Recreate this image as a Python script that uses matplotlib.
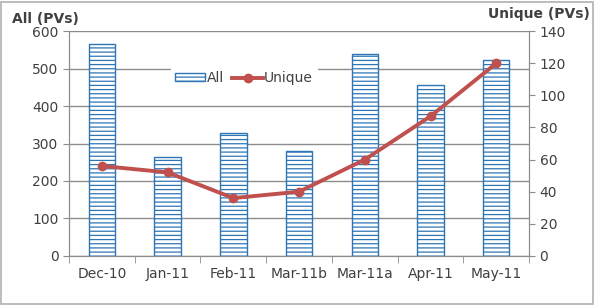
import numpy as np
import matplotlib
matplotlib.use("Agg")
import matplotlib.pyplot as plt
from matplotlib.patches import Rectangle

months = ["Dec-10", "Jan-11", "Feb-11", "Mar-11b", "Mar-11a", "Apr-11", "May-11"]
all_pvs = [565, 265, 328, 281, 539, 456, 523]
unique_pvs = [56, 52, 36, 40, 60, 87, 120]

plt.rcParams['font.family'] = ['DejaVu Sans']
plt.rcParams['hatch.color'] = '#4A8CCB'
plt.rcParams['hatch.linewidth'] = 0.9
txt = '#404040'
grid_c = '#8c8c8c'

fig = plt.figure(figsize=(6, 3.05), dpi=100)
ax = fig.add_axes([0.115, 0.161, 0.767, 0.737])
ax2 = ax.twinx()

x = np.arange(len(months))
bars = ax.bar(x, all_pvs, width=0.4, facecolor='white', edgecolor='#2E75B6',
              linewidth=1.0, hatch='----', zorder=2, label='All')
ln, = ax2.plot(x, unique_pvs, color='#C0504D', lw=2.8, marker='o', ms=6,
               label='Unique', zorder=3)

ax.set_xlim(-0.5, len(months) - 0.5)
ax.set_ylim(0, 600)
ax.set_yticks(range(0, 601, 100))
ax2.set_ylim(0, 140)
ax2.set_yticks(range(0, 141, 20))
ax.yaxis.grid(True, color=grid_c, lw=1, zorder=0)
ax.set_axisbelow(True)

ax.set_xticks(x)
ax.set_xticklabels(months)
ax.set_xticks(np.arange(-0.5, len(months), 1), minor=True)
ax.tick_params(axis='x', which='major', length=0, pad=8, labelsize=10, colors=txt)
ax.tick_params(axis='x', which='minor', length=5, color=grid_c)
ax.tick_params(axis='y', length=4, color=grid_c, labelsize=10, labelcolor=txt)
ax2.tick_params(axis='y', length=4, color=grid_c, labelsize=10, labelcolor=txt)

for a in (ax, ax2):
    a.spines['top'].set_visible(False)
    for s in ('left', 'right', 'bottom'):
        a.spines[s].set_color(grid_c)

fig.text(0.02, 0.925, "All (PVs)", fontsize=10, fontweight='bold', color=txt)
fig.text(0.983, 0.94, "Unique (PVs)", fontsize=10, fontweight='bold', color=txt, ha='right')

leg = ax2.legend([bars, ln], ['All', 'Unique'], loc='center', bbox_to_anchor=(0.38, 0.79),
                 ncol=2, frameon=True, fontsize=10, handlelength=2.2, handleheight=0.5,
                 handletextpad=0.1, columnspacing=0.6, borderpad=0.3, labelcolor=txt)
leg.get_frame().set_edgecolor('white')
leg.get_frame().set_facecolor('white')
leg.get_frame().set_alpha(1)

fig.patches.append(Rectangle((0.002, 0.004), 0.986, 0.99, transform=fig.transFigure,
                             fill=False, edgecolor='#b0b0b0', lw=1.2))

fig.savefig("out.png", dpi=100)
